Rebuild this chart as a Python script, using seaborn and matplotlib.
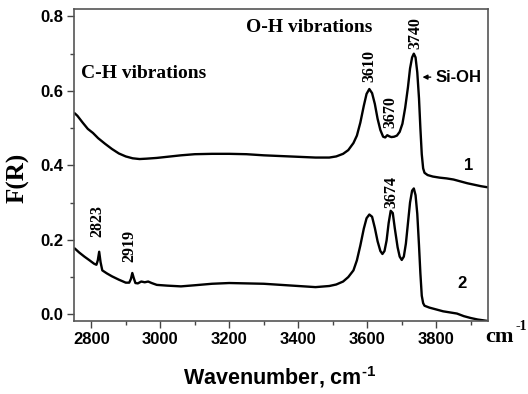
import numpy as np
import pandas as pd
import matplotlib
matplotlib.use("Agg")
import matplotlib.pyplot as plt
import seaborn as sns
from matplotlib.ticker import MultipleLocator

# ---- data ----
wn1 = [2752, 2760, 2775, 2790, 2805, 2820, 2840, 2860, 2880, 2900, 2920, 2940, 2960, 2990,
       3020, 3060, 3100, 3150, 3200, 3250, 3300, 3350, 3400, 3450, 3490, 3510, 3530, 3545,
       3560, 3570, 3580, 3590, 3598, 3606, 3614, 3622, 3630, 3638, 3646, 3652, 3658, 3664,
       3670, 3678, 3686, 3694, 3702, 3710, 3718, 3724, 3730, 3735, 3740, 3745, 3750, 3754,
       3758, 3762, 3766, 3775, 3790, 3810, 3830, 3850, 3870, 3890, 3910, 3930, 3950]
fr1 = [0.540, 0.533, 0.515, 0.498, 0.487, 0.473, 0.458, 0.444, 0.432, 0.424, 0.419, 0.417,
       0.418, 0.420, 0.423, 0.427, 0.430, 0.431, 0.431, 0.430, 0.427, 0.425, 0.423, 0.421,
       0.421, 0.424, 0.431, 0.441, 0.460, 0.480, 0.515, 0.560, 0.592, 0.605, 0.594, 0.565,
       0.525, 0.495, 0.477, 0.475, 0.481, 0.478, 0.476, 0.477, 0.480, 0.490, 0.512, 0.555,
       0.610, 0.660, 0.690, 0.700, 0.690, 0.650, 0.580, 0.500, 0.430, 0.392, 0.380, 0.374,
       0.370, 0.367, 0.365, 0.362, 0.357, 0.352, 0.348, 0.344, 0.341]

wn2 = [2752, 2765, 2780, 2795, 2808, 2815, 2819, 2823, 2827, 2832, 2845, 2860, 2880, 2900,
       2910, 2915, 2919, 2923, 2928, 2935, 2945, 2955, 2965, 2975, 2990, 3020, 3060, 3100,
       3150, 3200, 3250, 3300, 3350, 3400, 3450, 3490, 3510, 3530, 3545, 3560, 3570, 3580,
       3590, 3598, 3606, 3614, 3622, 3630, 3638, 3644, 3650, 3656, 3662, 3668, 3674, 3680,
       3688, 3694, 3700, 3706, 3712, 3718, 3724, 3730, 3735, 3740, 3745, 3750, 3754, 3758,
       3762, 3766, 3780, 3800, 3820, 3840, 3860, 3880, 3900, 3920, 3950]
fr2 = [0.177, 0.166, 0.155, 0.145, 0.136, 0.133, 0.145, 0.168, 0.140, 0.118, 0.110, 0.102,
       0.093, 0.085, 0.085, 0.095, 0.111, 0.098, 0.084, 0.083, 0.088, 0.086, 0.088, 0.084,
       0.079, 0.077, 0.075, 0.078, 0.082, 0.084, 0.083, 0.082, 0.079, 0.076, 0.073, 0.076,
       0.080, 0.088, 0.100, 0.118, 0.145, 0.185, 0.230, 0.258, 0.268, 0.262, 0.232, 0.196,
       0.170, 0.162, 0.170, 0.198, 0.245, 0.278, 0.272, 0.230, 0.180, 0.155, 0.146, 0.155,
       0.190, 0.245, 0.300, 0.332, 0.338, 0.320, 0.270, 0.185, 0.110, 0.050, 0.030, 0.023,
       0.018, 0.013, 0.008, 0.005, 0.002, -0.005, -0.010, -0.014, -0.018]

peak_labels1 = ["3610", "3670", "3740"]
peak_labels2 = ["2823", "2919", "3674"]
x_ticks = [2800, 3000, 3200, 3400, 3600, 3800]
y_ticks = [0.0, 0.2, 0.4, 0.6, 0.8]

df = pd.concat([
    pd.DataFrame({"wn": wn1, "fr": fr1, "sample": "1"}),
    pd.DataFrame({"wn": wn2, "fr": fr2, "sample": "2"}),
])

sns.set_theme(style="ticks")
SANS = ["Liberation Sans", "DejaVu Sans"]
SERIF = ["Liberation Serif", "DejaVu Serif"]
plt.rcParams["font.family"] = SANS
plt.rcParams["font.weight"] = "bold"
plt.rcParams["text.color"] = "black"
plt.rcParams["axes.labelcolor"] = "black"
plt.rcParams["xtick.color"] = "black"
plt.rcParams["ytick.color"] = "black"
plt.rcParams["mathtext.fontset"] = "custom"
plt.rcParams["mathtext.rm"] = "Liberation Sans:bold"
plt.rcParams["mathtext.it"] = "Liberation Sans:bold"
plt.rcParams["mathtext.bf"] = "Liberation Sans:bold"

fig = plt.figure(figsize=(5.28, 3.94), dpi=100)
ax = fig.add_axes([74 / 528, 1 - 321 / 394, (488 - 74) / 528, (321 - 9) / 394])

sns.lineplot(data=df, x="wn", y="fr", units="sample", estimator=None, sort=False,
             color="black", linewidth=1.7, ax=ax, legend=False)

ax.set_xlim(2750, 3950)
ax.set_ylim(-0.018, 0.82)
ax.set_xticks(x_ticks)
ax.set_yticks(y_ticks)
ax.set_xticklabels([str(t) for t in x_ticks])
ax.set_yticklabels([f"{t:.1f}" for t in y_ticks])
ax.xaxis.set_minor_locator(MultipleLocator(100))
ax.yaxis.set_minor_locator(MultipleLocator(0.1))
ax.tick_params(which="major", direction="out", length=5, width=1, color="#444444",
               labelcolor="black", labelsize=12, pad=3)
ax.tick_params(which="minor", direction="out", length=3, width=1, color="#444444")
for lab in ax.get_xticklabels() + ax.get_yticklabels():
    lab.set_fontweight("bold")
for s in ax.spines.values():
    s.set_color("#555555")
    s.set_linewidth(1.2)

ax.set_xlabel(r"Wavenumber, cm$^{\text{-1}}$", fontsize=15.5, fontweight="bold", color="black")
ax.xaxis.set_label_coords((280 - 74) / 414, (321 - 377) / 312)
ax.xaxis.label.set_va("center")
ax.set_ylabel("F(R)", fontsize=18, fontweight="bold", family=SERIF, color="black")
ax.yaxis.set_label_coords((18 - 74) / 414, (321 - 177.5) / 312)
ax.yaxis.label.set_va("center")

# annotations
ax.text(2953, 0.646, "C-H vibrations", family=SERIF, fontsize=14, fontweight="bold",
        ha="center", va="center")
ax.text(3431, 0.770, "O-H vibrations", family=SERIF, fontsize=14, fontweight="bold",
        ha="center", va="center")
for x, y, s in [(3605, 0.667, peak_labels1[0]), (3668, 0.544, peak_labels1[1]),
                (3740, 0.756, peak_labels1[2]), (2819, 0.250, peak_labels2[0]),
                (2911, 0.183, peak_labels2[1]), (3669, 0.327, peak_labels2[2])]:
    ax.text(x, y, s, family=SERIF, fontsize=11.5, fontweight="bold", rotation=90,
            ha="center", va="center")

ax.annotate("", xy=(3752, 0.637), xytext=(3792, 0.637),
            arrowprops=dict(arrowstyle="-|>", color="black", lw=1, mutation_scale=7))
ax.text(3797, 0.637, "Si-OH", fontsize=12, fontweight="bold", ha="left", va="center")
ax.text(3893, 0.401, "1", fontsize=12, fontweight="bold", ha="center", va="center")
ax.text(3874, 0.083, "2", fontsize=12, fontweight="bold", ha="center", va="center")

fig.text(485 / 528, 1 - 342 / 394, "cm", family=SERIF, fontsize=16, fontweight="bold",
         ha="left", va="baseline")
fig.text(516 / 528, 1 - 330 / 394, "-1", family=SERIF, fontsize=10, fontweight="bold",
         ha="left", va="baseline")

fig.savefig("out.png", dpi=100)
